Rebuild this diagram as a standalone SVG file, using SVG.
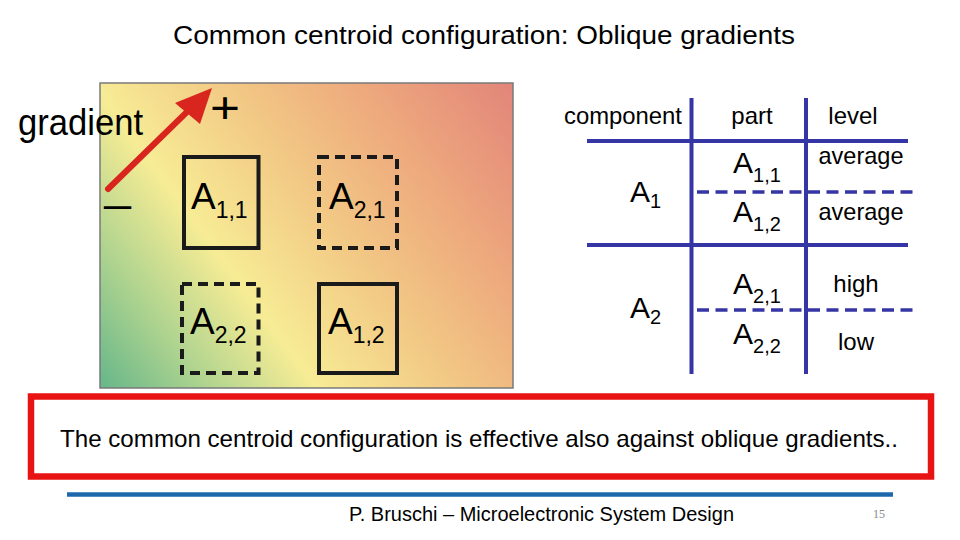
<svg xmlns="http://www.w3.org/2000/svg" width="960" height="540" viewBox="0 0 960 540">
<defs>
<linearGradient id="grad" gradientUnits="userSpaceOnUse" x1="100" y1="388" x2="513" y2="83">
<stop offset="0" stop-color="#66b68a"/>
<stop offset="0.17" stop-color="#b0d48f"/>
<stop offset="0.34" stop-color="#f7ec95"/>
<stop offset="0.55" stop-color="#f2c985"/>
<stop offset="0.75" stop-color="#eeaa7d"/>
<stop offset="1" stop-color="#e2857a"/>
</linearGradient>
<style>
.t{font-family:"Liberation Sans",Arial,sans-serif;fill:#000}
.sq{fill:none;stroke:#1a1a1a;stroke-width:4}
.dsq{fill:none;stroke:#1a1a1a;stroke-width:4;stroke-dasharray:10 6}
.tl{stroke:#3535a5;stroke-width:4;fill:none}
.td{stroke:#3535a5;stroke-width:3.5;fill:none;stroke-dasharray:12 6.5}
.sqA{font-size:37px}
.sqS{font-size:23px}
.tbA{font-size:30px}
.tbS{font-size:20px}
.hd{font-size:24px}
</style>
</defs>
<rect width="960" height="540" fill="#ffffff"/>

<text class="t" x="173" y="44" font-size="26" textLength="622" lengthAdjust="spacingAndGlyphs">Common centroid configuration: Oblique gradients</text>

<g id="panel">
<rect x="100" y="83" width="413" height="305" fill="url(#grad)" stroke="#7a7a7a" stroke-width="1.5"/>
</g>

<text class="t" x="18" y="135" font-size="36" textLength="125" lengthAdjust="spacingAndGlyphs">gradient</text>

<g id="arrow">
<line x1="108" y1="189" x2="192" y2="107" stroke="#d8251d" stroke-width="6" stroke-linecap="round"/>
<polygon points="212,88 175,103 200,124" fill="#d8251d"/>
<text class="t" x="210" y="123" font-size="44" textLength="30" lengthAdjust="spacingAndGlyphs">+</text>
<text class="t" x="101" y="221" font-size="40" textLength="33" lengthAdjust="spacingAndGlyphs">−</text>
</g>

<g id="sq-A11">
<rect class="sq" x="184" y="157" width="74.5" height="91"/>
<text class="t" x="191" y="209"><tspan class="sqA">A</tspan><tspan class="sqS" dy="9">1,1</tspan></text>
</g>
<g id="sq-A21">
<rect class="dsq" x="319" y="157" width="78" height="91"/>
<text class="t" x="329" y="209"><tspan class="sqA">A</tspan><tspan class="sqS" dy="9">2,1</tspan></text>
</g>
<g id="sq-A22">
<rect class="dsq" x="182" y="284" width="76.5" height="89"/>
<text class="t" x="190" y="334"><tspan class="sqA">A</tspan><tspan class="sqS" dy="9">2,2</tspan></text>
</g>
<g id="sq-A12">
<rect class="sq" x="319" y="284" width="78" height="89"/>
<text class="t" x="328" y="334"><tspan class="sqA">A</tspan><tspan class="sqS" dy="9">1,2</tspan></text>
</g>

<g id="table-lines">
<line class="tl" x1="691.5" y1="98" x2="691.5" y2="374"/>
<line class="tl" x1="806" y1="98" x2="806" y2="374"/>
<line class="tl" x1="587" y1="141" x2="908" y2="141"/>
<line class="tl" x1="587" y1="245" x2="908" y2="245"/>
<line class="td" x1="697" y1="192" x2="918" y2="192"/>
<line class="td" x1="697" y1="310" x2="918" y2="310"/>
</g>

<g id="table-header">
<text class="t hd" x="564" y="124" textLength="118" lengthAdjust="spacingAndGlyphs">component</text>
<text class="t hd" x="752" y="124" text-anchor="middle">part</text>
<text class="t hd" x="853" y="124" text-anchor="middle">level</text>
</g>

<g id="row-A1">
<text class="t" x="630" y="202"><tspan class="tbA">A</tspan><tspan class="tbS" dy="6">1</tspan></text>
<text class="t" x="733" y="173"><tspan class="tbA">A</tspan><tspan class="tbS" dy="9">1,1</tspan></text>
<text class="t" x="733" y="222"><tspan class="tbA">A</tspan><tspan class="tbS" dy="9">1,2</tspan></text>
<text class="t hd" x="861" y="164" text-anchor="middle" textLength="85" lengthAdjust="spacingAndGlyphs">average</text>
<text class="t hd" x="861" y="220" text-anchor="middle" textLength="85" lengthAdjust="spacingAndGlyphs">average</text>
</g>

<g id="row-A2">
<text class="t" x="630" y="318"><tspan class="tbA">A</tspan><tspan class="tbS" dy="6">2</tspan></text>
<text class="t" x="733" y="294"><tspan class="tbA">A</tspan><tspan class="tbS" dy="9">2,1</tspan></text>
<text class="t" x="733" y="344"><tspan class="tbA">A</tspan><tspan class="tbS" dy="9">2,2</tspan></text>
<text class="t hd" x="856" y="292" text-anchor="middle">high</text>
<text class="t hd" x="856" y="350" text-anchor="middle">low</text>
</g>

<g id="note">
<rect x="31" y="396.5" width="900" height="80" fill="#ffffff" stroke="#e81313" stroke-width="6.5"/>
<text class="t" x="60" y="447" font-size="24" textLength="838" lengthAdjust="spacingAndGlyphs">The common centroid configuration is effective also against oblique gradients..</text>
</g>

<g id="footer">
<line x1="67" y1="494.5" x2="893" y2="494.5" stroke="#1b69ac" stroke-width="4.5"/>
<text class="t" x="349" y="521" font-size="20" textLength="385" lengthAdjust="spacingAndGlyphs">P. Bruschi – Microelectronic System Design</text>
<text x="879" y="518" font-family="Liberation Serif,serif" font-size="12" fill="#888888" text-anchor="middle">15</text>
</g>
</svg>
